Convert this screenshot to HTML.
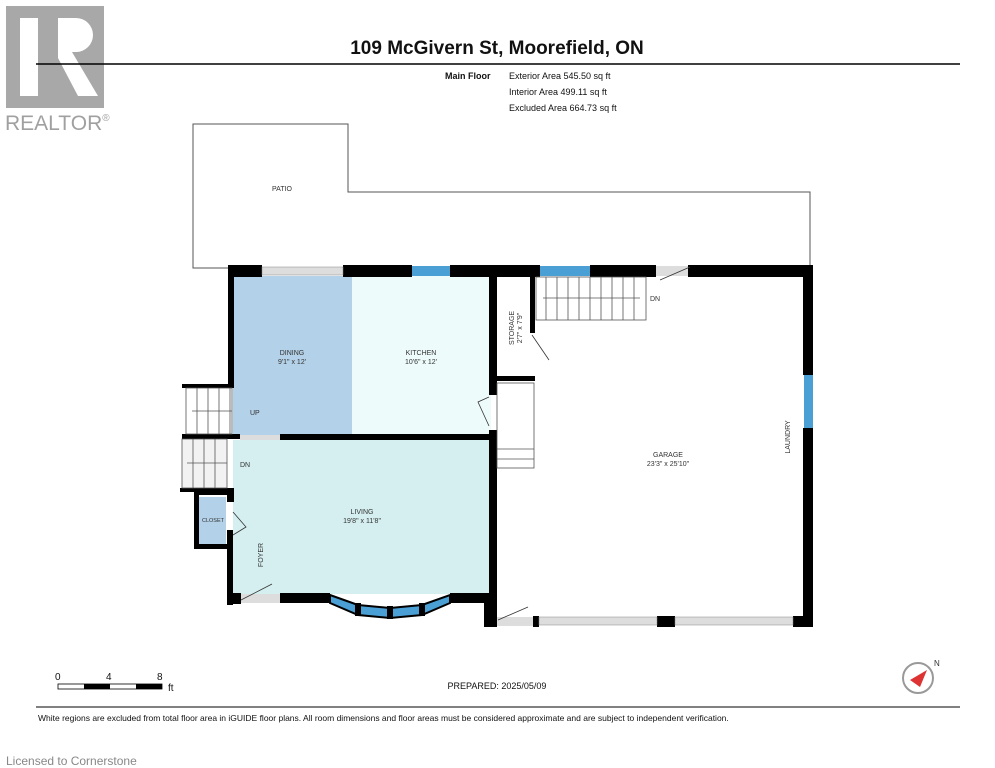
<!DOCTYPE html>
<html><head><style>
body{margin:0;background:#fff;width:995px;height:768px;overflow:hidden;font-family:"Liberation Sans",sans-serif}
svg{position:absolute;left:0;top:0}
</style></head><body>
<svg width="995" height="768" viewBox="0 0 995 768" font-family="Liberation Sans, sans-serif">
<rect x="6" y="6" width="98" height="102" fill="#a8a8a8"/>
<rect x="20" y="18" width="18" height="78" fill="#fff"/>
<path d="M58 18 h18 a16 16 0 0 1 0 34 h-4 l26 44 h-20 l-20 -38 z" fill="#fff"/>
<text x="5" y="130" font-size="21" fill="#a0a0a0">REALTOR<tspan font-size="10" dy="-9">®</tspan></text>
<text x="497" y="54" font-size="19" font-weight="bold" text-anchor="middle" fill="#111">109 McGivern St, Moorefield, ON</text>
<line x1="36" y1="64" x2="960" y2="64" stroke="#000" stroke-width="1.5"/>
<text x="445" y="79" font-size="9" font-weight="bold" fill="#111">Main Floor</text>
<text x="509" y="79" font-size="9" fill="#111">Exterior Area 545.50 sq ft</text>
<text x="509" y="95" font-size="9" fill="#111">Interior Area 499.11 sq ft</text>
<text x="509" y="111" font-size="9" fill="#111">Excluded Area 664.73 sq ft</text>
<path d="M193 124 H348 V192 H810 V268 H193 Z" fill="#fff" stroke="#555" stroke-width="1"/>
<text x="282" y="191" font-size="7" text-anchor="middle" fill="#333">PATIO</text>
<rect x="233" y="276" width="119" height="160" fill="#b3d1e8"/>
<rect x="352" y="276" width="139" height="160" fill="#eefbfb"/>
<rect x="233" y="440" width="258" height="154" fill="#d5eff0"/>
<rect x="199" y="497" width="27" height="47" fill="#b3d1e8"/>
<g fill="#000">
<rect x="228" y="265" width="34" height="12"/>
<rect x="343" y="265" width="69" height="12"/>
<rect x="450" y="265" width="90" height="12"/>
<rect x="590" y="265" width="66" height="12"/>
<rect x="688" y="265" width="125" height="12"/>
<rect x="803" y="265" width="10" height="110"/>
<rect x="803" y="428" width="10" height="199"/>
<rect x="228" y="265" width="6" height="120"/>
<rect x="280" y="434" width="216" height="6"/>
<rect x="489" y="265" width="8" height="130"/>
<rect x="489" y="430" width="8" height="197"/>
<rect x="484" y="598" width="13" height="29"/>
<rect x="533" y="616" width="6" height="11"/>
<rect x="657" y="616" width="18" height="11"/>
<rect x="793" y="616" width="20" height="11"/>
<rect x="484" y="616" width="13" height="11"/>
<rect x="530" y="277" width="5" height="56"/>
<rect x="497" y="376" width="38" height="5"/>
<rect x="227" y="490" width="7" height="12"/>
<rect x="194" y="490" width="40" height="5"/>
<rect x="194" y="490" width="5" height="58"/>
<rect x="194" y="544" width="37" height="5"/>
<rect x="227" y="530" width="6" height="75"/>
<rect x="227" y="593" width="14" height="11"/>
<rect x="280" y="593" width="50" height="10"/>
<rect x="450" y="593" width="46" height="10"/>
<rect x="182" y="384" width="52" height="4"/>
<rect x="182" y="434" width="58" height="5"/>
<rect x="180" y="488" width="54" height="4"/>
</g>
<rect x="262" y="267" width="81" height="8" fill="#ddd" stroke="#888" stroke-width="0.5"/>
<rect x="412" y="266" width="38" height="10" fill="#4a9fd4"/>
<rect x="540" y="266" width="50" height="10" fill="#4a9fd4"/>
<rect x="656" y="266" width="32" height="10" fill="#ddd"/>
<rect x="804" y="375" width="9" height="53" fill="#4a9fd4"/>
<rect x="539" y="617" width="118" height="8" fill="#ddd" stroke="#888" stroke-width="0.5"/>
<rect x="675" y="617" width="118" height="8" fill="#ddd" stroke="#888" stroke-width="0.5"/>
<rect x="497" y="617" width="36" height="9" fill="#ddd"/>
<rect x="241" y="594" width="39" height="9" fill="#ddd"/>
<rect x="240" y="435" width="40" height="5" fill="#ddd"/>
<path d="M330 595 L358 605 L390 608 L422 605 L450 595 L450 603 L422 615 L390 618 L358 615 L330 603 Z" fill="#4a9fd4" stroke="#000" stroke-width="2"/>
<g fill="#000"><rect x="355" y="603" width="6" height="13"/><rect x="387" y="606" width="6" height="13"/><rect x="419" y="603" width="6" height="13"/></g>
<g stroke="#555" stroke-width="0.8" fill="#fff">
<rect x="186" y="388" width="46" height="46"/>
<path d="M197 388V434M208 388V434M219 388V434M230 388V434M192 411H232"/>
<rect x="182" y="439" width="45" height="49" fill="#f2f2f2"/>
<path d="M193 439V488M204 439V488M215 439V488M187 463H227"/>
<rect x="536" y="277" width="110" height="43"/>
<path d="M546 277V320M557 277V320M568 277V320M579 277V320M590 277V320M601 277V320M612 277V320M623 277V320M634 277V320M543 298H640"/>
<rect x="497" y="383" width="37" height="85"/>
<path d="M497 449H534M497 459H534"/>
</g>
<g stroke="#333" stroke-width="0.8" fill="none">
<path d="M660 280 L690 267"/><path d="M498 620 L528 607"/><path d="M241 600 L272 584"/>
<path d="M233 512 L246 527 L233 535"/><path d="M532 335 L549 360"/><path d="M489 397 L478 402 L489 426"/>
</g>
<g font-size="7" fill="#333" text-anchor="middle">
<text x="292" y="355">DINING</text><text x="292" y="364">9'1" x 12'</text>
<text x="421" y="355">KITCHEN</text><text x="421" y="364">10'6" x 12'</text>
<text x="362" y="514">LIVING</text><text x="362" y="523">19'8" x 11'8"</text>
<text x="668" y="457">GARAGE</text><text x="668" y="466">23'3" x 25'10"</text>
<text x="213" y="522" font-size="5.5">CLOSET</text>
<text x="250" y="415" text-anchor="start">UP</text>
<text x="240" y="467" text-anchor="start">DN</text>
<text x="650" y="301" text-anchor="start">DN</text>
<text transform="translate(263 555) rotate(-90)">FOYER</text>
<text transform="translate(790 437) rotate(-90)">LAUNDRY</text>
<text transform="translate(514 328) rotate(-90)">STORAGE</text>
<text transform="translate(522 328) rotate(-90)">2'7" x 7'9"</text>
</g>
<g font-size="10" fill="#111"><text x="55" y="680">0</text><text x="106" y="680">4</text><text x="157" y="680">8</text><text x="168" y="691">ft</text></g>
<rect x="58" y="684" width="104" height="5" fill="#fff" stroke="#000" stroke-width="0.8"/>
<rect x="84" y="684" width="26" height="5" fill="#000"/><rect x="136" y="684" width="26" height="5" fill="#000"/>
<text x="497" y="689" font-size="9" text-anchor="middle" fill="#111">PREPARED: 2025/05/09</text>
<circle cx="918" cy="678" r="15" fill="#fff" stroke="#999" stroke-width="2"/>
<path d="M910 680 L927 670 L920 687 Z" fill="#d33"/>
<text x="934" y="666" font-size="8" fill="#333">N</text>
<line x1="36" y1="707" x2="960" y2="707" stroke="#000" stroke-width="1"/>
<text x="38" y="721" font-size="8.5" fill="#111">White regions are excluded from total floor area in iGUIDE floor plans. All room dimensions and floor areas must be considered approximate and are subject to independent verification.</text>
<text x="6" y="765" font-size="12" fill="#888">Licensed to Cornerstone</text>
</svg>
</body></html>
